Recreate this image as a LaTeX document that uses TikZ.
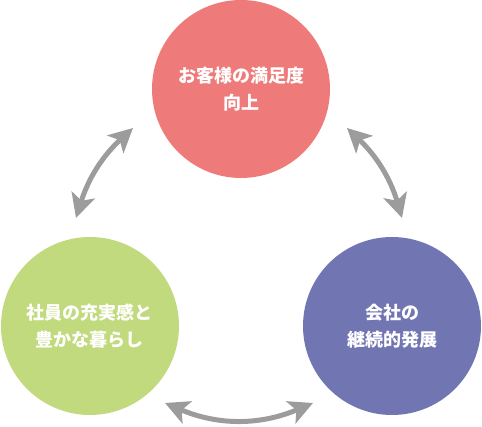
\documentclass[tikz,border=0pt]{standalone}
\usepackage{fontspec}
\newfontfamily\jp{Noto Sans CJK JP}
\usetikzlibrary{arrows.meta}
\definecolor{cred}{HTML}{EE7A7A}
\definecolor{cgreen}{HTML}{C2DA7E}
\definecolor{cpurple}{HTML}{7176B3}
\definecolor{cgray}{HTML}{9C9C9C}
\tikzset{
  bubble/.style={circle, minimum size=178pt, inner sep=0pt, text=white,
    align=center, font=\jp\bfseries\fontsize{18pt}{27.5pt}\selectfont},
  cyclearrow/.style={draw=cgray, line width=5pt,
    {Stealth[length=24pt,width=24pt,inset=6pt]}-{Stealth[length=24pt,width=24pt,inset=6pt]}}
}
\begin{document}
\begin{tikzpicture}[x=1pt,y=1pt]
\useasboundingbox (0,0) rectangle (482,427);
\node[bubble, fill=cred] (r) at (241,338) {お客様の満足度\\向上};
\node[bubble, fill=cgreen] (g) at (90,101) {社員の充実感と\\豊かな暮らし};
\node[bubble, fill=cpurple] (p) at (392,101) {会社の\\継続的発展};
\coordinate (l1) at (76,209);
\coordinate (l2) at (133,299);
\coordinate (r1) at (347,299);
\coordinate (r2) at (402,209);
\coordinate (b1) at (165,24);
\coordinate (b2) at (313,24);
\draw[cyclearrow] (l1) to[bend left=15] (l2);
\draw[cyclearrow] (r1) to[bend left=15] (r2);
\draw[cyclearrow] (b1) to[bend right=23] (b2);
\end{tikzpicture}
\end{document}
